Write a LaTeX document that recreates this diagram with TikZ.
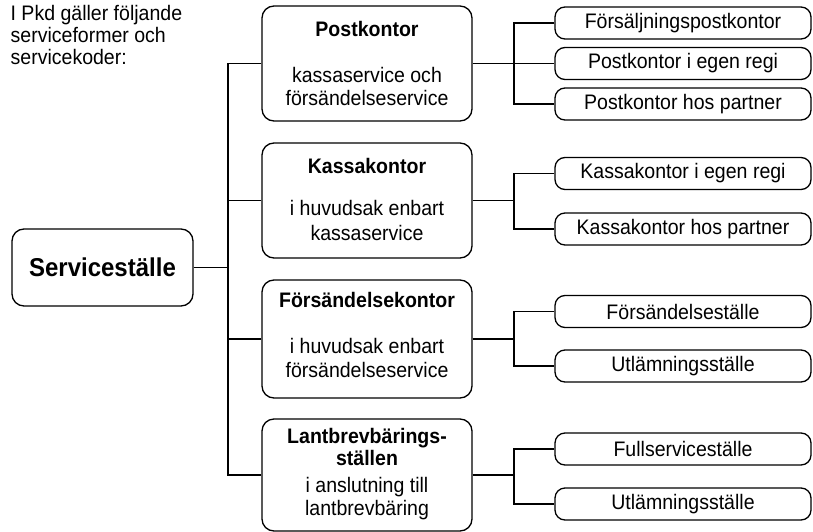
\documentclass[tikz,border=0pt]{standalone}
\usepackage{fontspec}
\setmainfont{Liberation Sans}[FakeStretch=0.93]
\begin{document}
\begin{tikzpicture}[x=1pt,y=-1pt, line width=1.3pt,
  box/.style={draw, rounded corners=12pt, inner sep=0pt},
  midbox/.style={box, minimum width=210pt},
  leaf/.style={draw, rounded corners=10pt, inner sep=0pt, minimum width=256pt, minimum height=32pt, font=\fontsize{21}{23}\selectfont},
  txt/.style={anchor=base, inner sep=0pt, font=\fontsize{21}{23}\selectfont},
  ttl/.style={anchor=base, inner sep=0pt, font=\fontsize{21}{23}\selectfont\bfseries},
  intro/.style={anchor=base west, inner sep=0pt, font=\fontsize{21}{23}\selectfont}]
\useasboundingbox (0,0) rectangle (813,532);

% intro text
\node[intro] (i1) at (10,20.7) {I Pkd gäller följande};
\node[intro] (i2) at (10,42.7) {serviceformer och};
\node[intro] (i3) at (10,65) {servicekoder:};

% root
\node[box, minimum width=181pt, minimum height=77pt, font=\fontsize{25.8}{30}\selectfont\bfseries] (sv) at (102.5,267.5) {Serviceställe};

% middle boxes
\node[midbox, minimum height=115pt] (pk) at (367,63.5) {};
\node[ttl] (pkt) at (367,37) {Postkontor};
\node[txt] (pkb1) at (367,83) {kassaservice och};
\node[txt] (pkb2) at (367,106) {försändelseservice};

\node[midbox, minimum height=115pt] (ks) at (367,200.5) {};
\node[ttl] (kst) at (367,173) {Kassakontor};
\node[txt] (ksb1) at (367,215) {i huvudsak enbart};
\node[txt] (ksb2) at (367,240) {kassaservice};

\node[midbox, minimum height=118pt] (fk) at (367,339) {};
\node[ttl] (fkt) at (367,307) {Försändelsekontor};
\node[txt] (fkb1) at (367,353) {i huvudsak enbart};
\node[txt] (fkb2) at (367,377) {försändelseservice};

\node[midbox, minimum height=112pt] (lb) at (367,475) {};
\node[ttl] (lbt1) at (367,443) {Lantbrevbärings-};
\node[ttl] (lbt2) at (367,465) {ställen};
\node[txt] (lbb1) at (367,492) {i anslutning till};
\node[txt] (lbb2) at (367,515) {lantbrevbäring};

% leaf boxes
\node[leaf] (r1) at (683,23) {Försäljningspostkontor};
\node[leaf] (r2) at (683,63.5) {Postkontor i egen regi};
\node[leaf] (r3) at (683,104) {Postkontor hos partner};
\node[leaf] (r4) at (683,173.5) {Kassakontor i egen regi};
\node[leaf] (r5) at (683,229) {Kassakontor hos partner};
\node[leaf] (r6) at (683,311.5) {Försändelseställe};
\node[leaf] (r7) at (683,366) {Utlämningsställe};
\node[leaf] (r8) at (683,449) {Fullserviceställe};
\node[leaf] (r9) at (683,504) {Utlämningsställe};

% trunks
\coordinate (T) at (228,0);
\coordinate (S) at (514,0);

\draw (sv.east) -- (sv.east -| T);
\draw (pk.west) -| (T |- lb.west) -- (lb.west);
\draw (ks.west) -- (ks.west -| T);
\draw (fk.west) -- (fk.west -| T);

\draw (pk.east) -- (r2.west);
\draw (r1.west) -| (S |- r3.west) -- (r3.west);

\draw (ks.east) -- (ks.east -| S);
\draw (r4.west) -| (S |- r5.west) -- (r5.west);

\draw (fk.east) -- (fk.east -| S);
\draw (r6.west) -| (S |- r7.west) -- (r7.west);

\draw (lb.east) -- (lb.east -| S);
\draw (r8.west) -| (S |- r9.west) -- (r9.west);
\end{tikzpicture}
\end{document}
